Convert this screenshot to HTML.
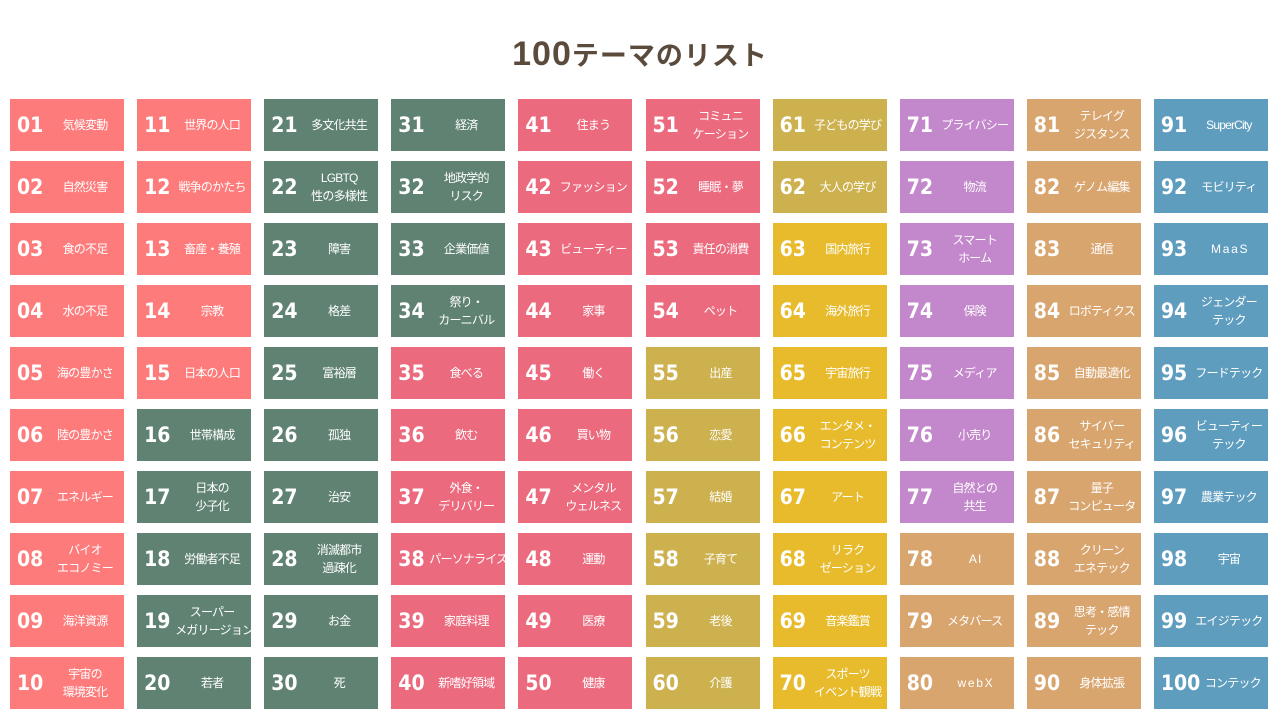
<!DOCTYPE html>
<html><head><meta charset="utf-8"><style>
body{margin:0;width:1280px;height:720px;background:#fff;overflow:hidden;font-family:"Liberation Sans","Noto Sans CJK JP",sans-serif;}
h1{position:absolute;top:34px;left:0;width:1280px;text-align:center;margin:0;font-size:27px;color:#5b4b3c;font-weight:bold;letter-spacing:1px}
h1 b{font-size:34px}
.c{position:absolute;width:114px;height:52px;color:#fff;display:flex;align-items:center;overflow:hidden}
.n{font-family:"DejaVu Sans Condensed","Liberation Sans Narrow","Liberation Sans",sans-serif;font-weight:bold;font-size:21px;width:38px;padding-left:7px;box-sizing:border-box;flex:none}
.t{flex:1;text-align:center;font-size:12px;line-height:18px;padding-right:2px;white-space:nowrap;letter-spacing:-0.8px;overflow:hidden}
</style></head><body>
<h1><b>100</b>テーマのリスト</h1>
<div id="g"></div>
<script>
var L=["気候変動","自然災害","食の不足","水の不足","海の豊かさ","陸の豊かさ","エネルギー","バイオ<br>エコノミー","海洋資源","宇宙の<br>環境変化",
"世界の人口","戦争のかたち","畜産・養殖","宗教","日本の人口","世帯構成","日本の<br>少子化","労働者不足","スーパー<br>メガリージョン","若者",
"多文化共生","LGBTQ<br>性の多様性","障害","格差","富裕層","孤独","治安","消滅都市<br>過疎化","お金","死",
"経済","地政学的<br>リスク","企業価値","祭り・<br>カーニバル","食べる","飲む","外食・<br>デリバリー","パーソナライズ","家庭料理","新嗜好領域",
"住まう","ファッション","ビューティー","家事","働く","買い物","メンタル<br>ウェルネス","運動","医療","健康",
"コミュニ<br>ケーション","睡眠・夢","責任の消費","ペット","出産","恋愛","結婚","子育て","老後","介護",
"子どもの学び","大人の学び","国内旅行","海外旅行","宇宙旅行","エンタメ・<br>コンテンツ","アート","リラク<br>ゼーション","音楽鑑賞","スポーツ<br>イベント観戦",
"プライバシー","物流","スマート<br>ホーム","保険","メディア","小売り","自然との<br>共生","A I","メタバース","w e b X",
"テレイグ<br>ジスタンス","ゲノム編集","通信","ロボティクス","自動最適化","サイバー<br>セキュリティ","量子<br>コンピュータ","クリーン<br>エネテック","思考・感情<br>テック","身体拡張",
"SuperCity","モビリティ","M a a S","ジェンダー<br>テック","フードテック","ビューティー<br>テック","農業テック","宇宙","エイジテック","コンテック"];
function col(i){if(i<=15)return"#fe7b7b";if(i<=34)return"#5f8272";if(i<=54)return"#eb6a7e";if(i<=62)return"#cdb14f";if(i<=70)return"#e7bb2c";if(i<=77)return"#c387cb";if(i<=90)return"#d9a56f";return"#5f9dbf";}
var h="";
for(var i=1;i<=100;i++){var c=Math.floor((i-1)/10),r=(i-1)%10;
h+='<div class="c" style="left:'+(10+c*127.1)+'px;top:'+(99+r*62)+'px;background:'+col(i)+'"><span class="n"'+(i==100?' style="width:46px"':'')+'>'+(i<10?"0"+i:i)+'</span><span class="t">'+L[i-1]+'</span></div>';}
document.getElementById("g").innerHTML=h;
</script>
</body></html>
